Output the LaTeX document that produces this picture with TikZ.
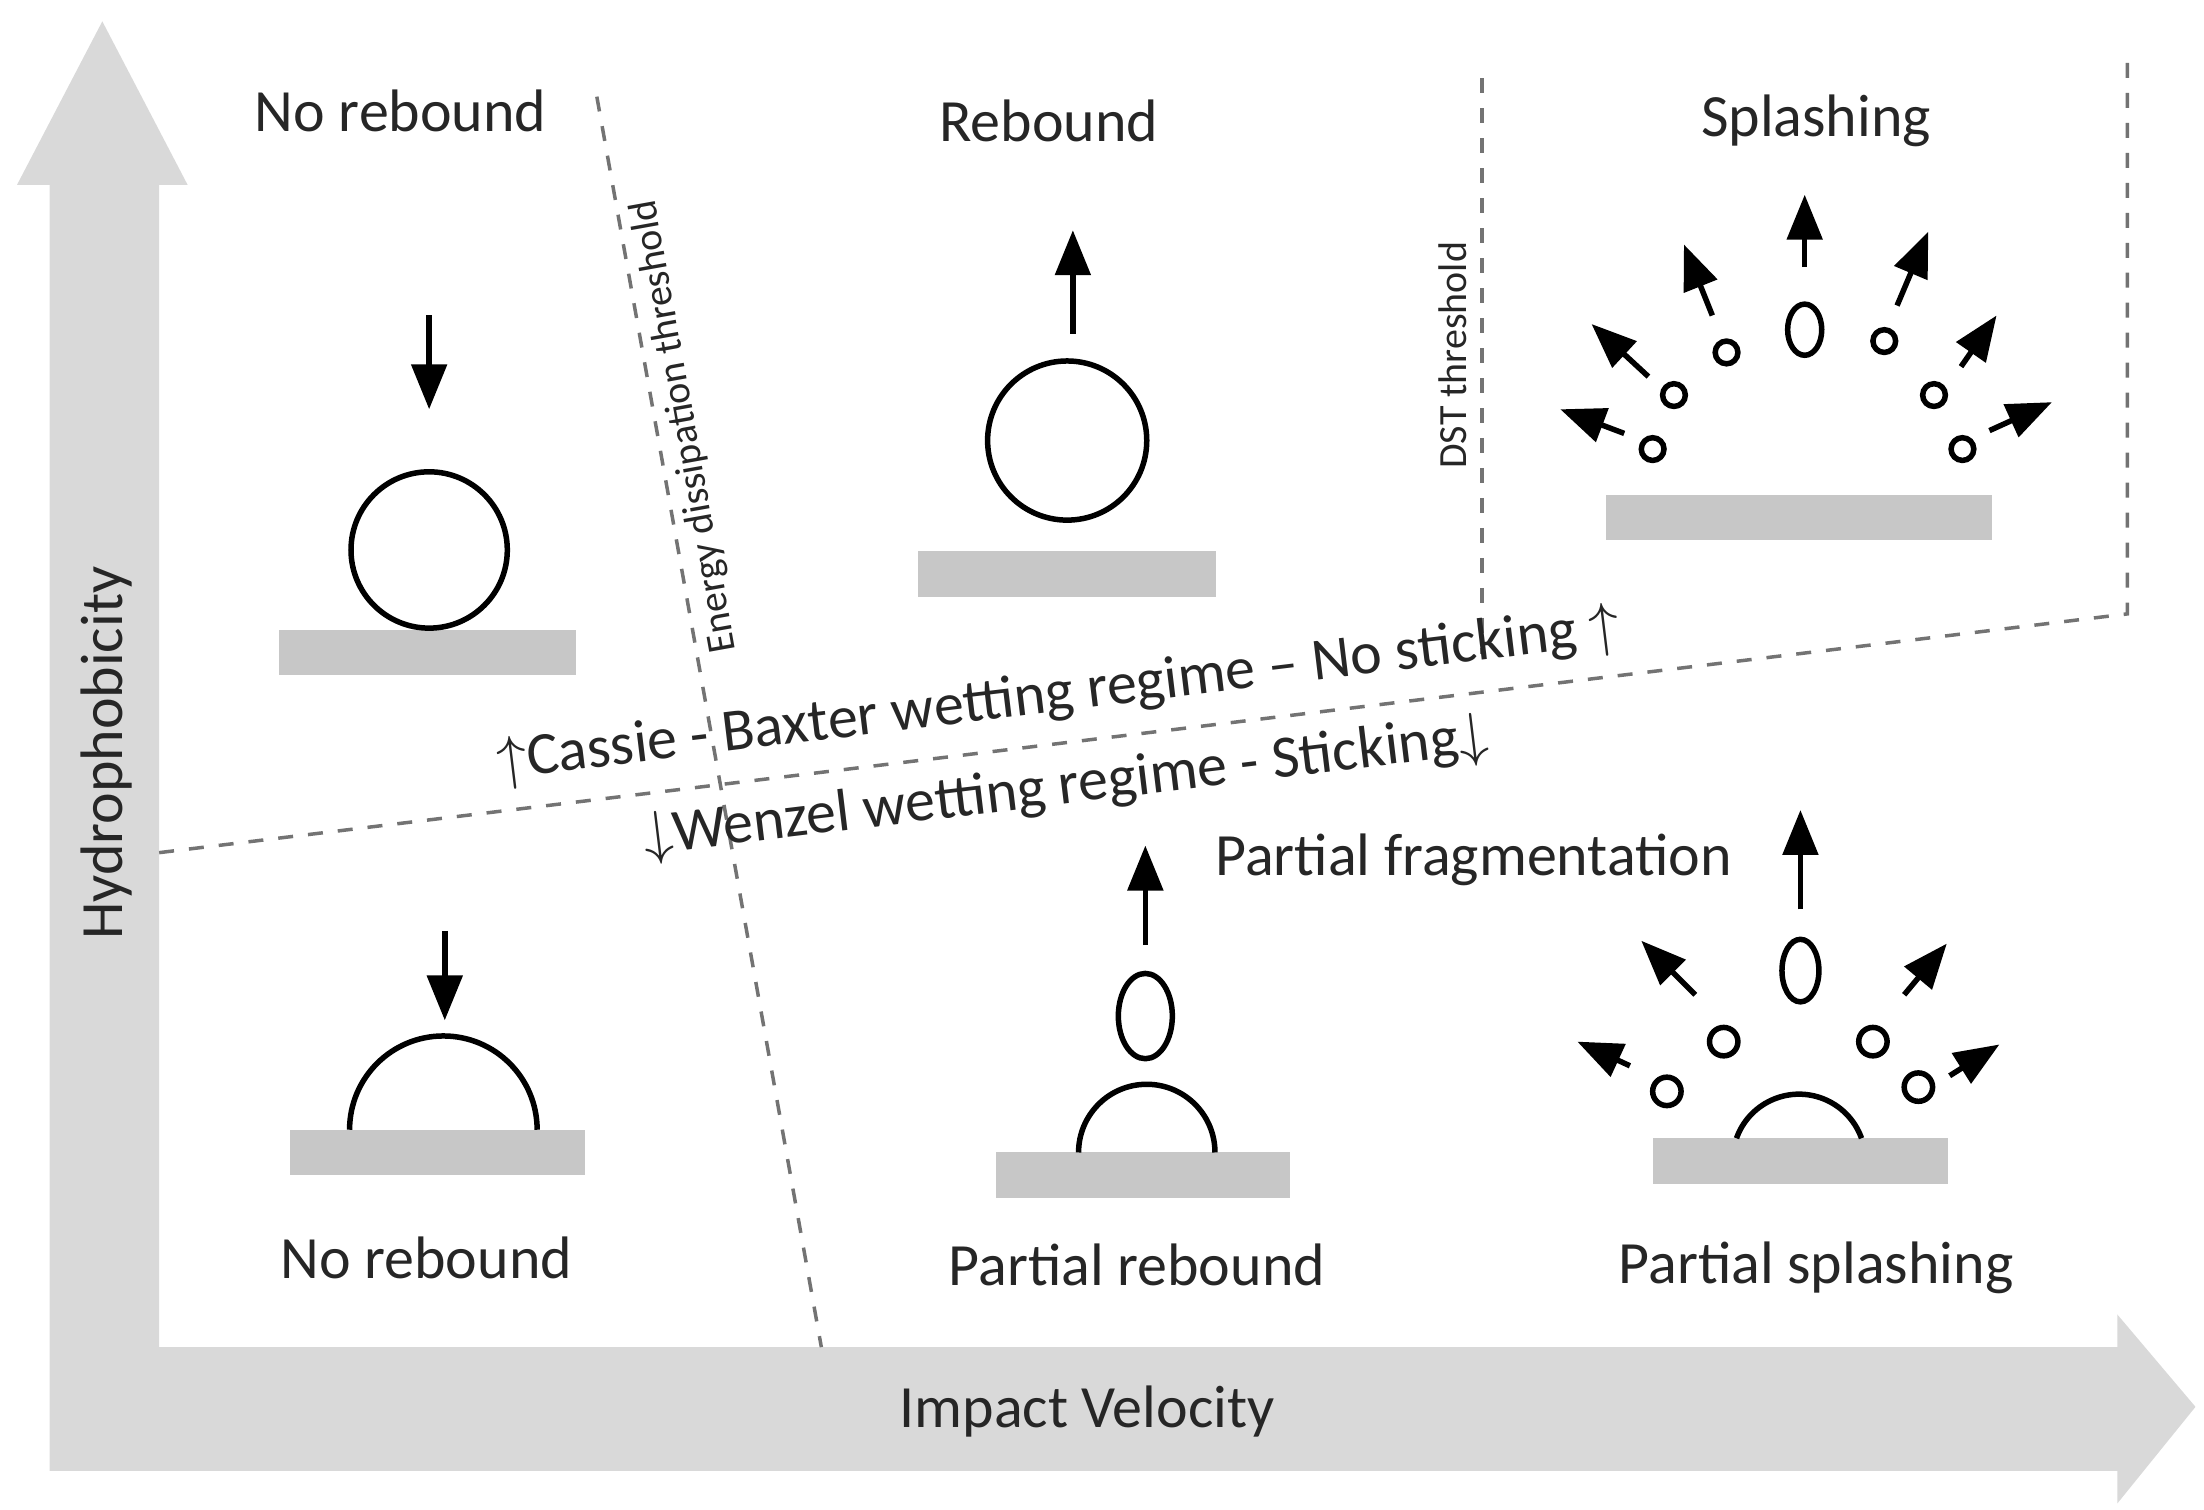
\documentclass[tikz,border=0pt]{standalone}
\usepackage{fontspec}
\setmainfont{Carlito}
\usetikzlibrary{arrows.meta}
\begin{document}
\begin{tikzpicture}[x=0.01cm,y=0.01cm,
  bar/.style={fill=black!22,draw=none},
  drop/.style={draw=black,line width=1.1pt},
  arr/.style={draw=black,line width=1.1pt,-{Triangle[length=9pt,width=7pt]}},
  dln/.style={draw=black!55,dashed,line width=0.7pt},
  lab/.style={font=\fontsize{12}{14}\selectfont,text=black!85},
  sml/.style={font=\fontsize{8}{10}\selectfont,text=black!85,inner sep=1pt}]
\useasboundingbox (0,0) rectangle (1551,-1062);
% big axes
\fill[black!15] (35,-1035) -- (35,-130) -- (12,-130) -- (72,-15) -- (132,-130) -- (112,-130) -- (112,-948)
  -- (1490,-948) -- (1490,-925) -- (1545,-990) -- (1490,-1058) -- (1490,-1035) -- cycle;
\node[lab,rotate=90] (hy) at (75,-530) {Hydrophobicity};
\node[lab] (iv) at (765,-993) {Impact Velocity};
% dashed lines
\draw[dln] (420,-68) -- (578,-948);
\node[sml,rotate=100.2] (ed) at (482,-300) {Energy dissipation threshold};
\draw[dln] (112,-600) -- (1497,-432) -- (1497,-40);
\draw[dln] (1043,-55) -- (1043,-460);
\node[sml,rotate=90] (dst) at (1022,-250) {DST threshold};
\node[lab,rotate=6.9] (cb) at (745,-490) {$\uparrow$Cassie - Baxter wetting regime -- No sticking $\uparrow$};
\node[lab,rotate=6.9] (wz) at (750,-555) {$\downarrow$Wenzel wetting regime - Sticking$\downarrow$};
% titles
\node[lab] (t1) at (282,-78) {No rebound};
\node[lab] (t2) at (738,-85) {Rebound};
\node[lab] (t3) at (1278,-85) {Splashing};
\node[lab] (t4) at (1037,-605) {Partial fragmentation};
\node[lab] (t5) at (300,-885) {No rebound};
\node[lab] (t6) at (800,-890) {Partial rebound};
\node[lab] (t7) at (1278,-892) {Partial splashing};
% no rebound top
\fill[bar] (196,-443) rectangle (405,-475);
\draw[drop] (302,-387) circle[radius=55];
\draw[arr] (302,-222) -- (302,-288);
% rebound
\fill[bar] (646,-388) rectangle (856,-420);
\draw[drop] (751,-310) circle[radius=56];
\draw[arr] (755,-235) -- (755,-162);
% splashing
\fill[bar] (1130,-348) rectangle (1402,-380);
\foreach \p in {(1163,-316),(1178,-278),(1215,-248),(1326,-240),(1361,-278),(1381,-316)} \draw[drop] \p circle[radius=8];
\draw[drop] (1270,-232) ellipse[x radius=12,y radius=18];
\draw[arr] (1143,-305) -- (1098,-288);
\draw[arr] (1160,-265) -- (1120,-228);
\draw[arr] (1205,-222) -- (1185,-172);
\draw[arr] (1270,-188) -- (1270,-137);
\draw[arr] (1335,-215) -- (1357,-163);
\draw[arr] (1380,-258) -- (1405,-222);
\draw[arr] (1400,-303) -- (1444,-283);
% no rebound bottom
\fill[bar] (204,-795) rectangle (412,-827);
\draw[drop] (246,-795) arc[start angle=180,end angle=0,radius=66];
\draw[arr] (313,-655) -- (313,-718);
% partial rebound
\fill[bar] (701,-811) rectangle (908,-843);
\draw[drop] (759,-811) arc[start angle=180,end angle=0,radius=48];
\draw[drop] (806,-715) ellipse[x radius=19,y radius=30];
\draw[arr] (806,-665) -- (806,-595);
% partial splashing
\fill[bar] (1163,-801) rectangle (1371,-833);
\draw[drop] (1222,-801) arc[start angle=160.4,end angle=19.6,radius=46.7];
\draw[drop] (1267,-683) ellipse[x radius=13,y radius=22];
\draw[arr] (1267,-640) -- (1267,-570);
\foreach \p in {(1213,-733),(1173,-768),(1318,-733),(1350,-765)} \draw[drop] \p circle[radius=10];
\draw[arr] (1193,-700) -- (1155,-662);
\draw[arr] (1147,-750) -- (1110,-733);
\draw[arr] (1340,-700) -- (1370,-664);
\draw[arr] (1372,-757) -- (1407,-735);
\end{tikzpicture}
\end{document}
